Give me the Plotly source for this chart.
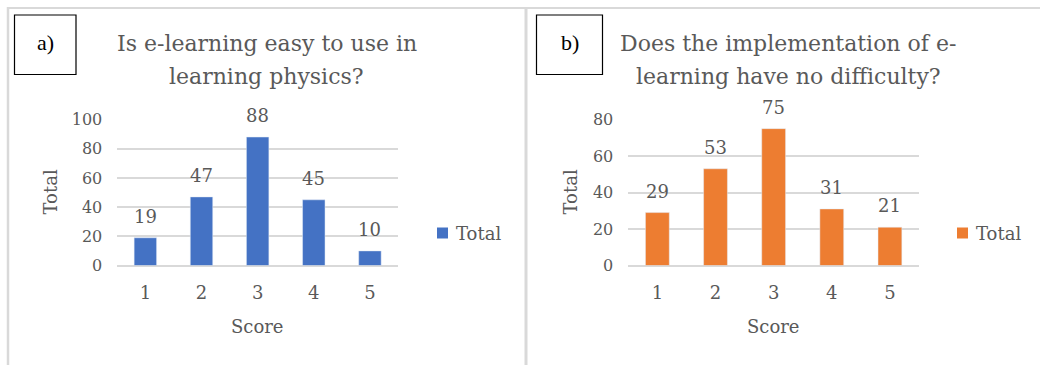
import plotly.graph_objects as go

W, H = 1040, 365

scores = ["1", "2", "3", "4", "5"]
totals_a = [19, 47, 88, 45, 10]
totals_b = [29, 53, 75, 31, 21]
series_name = "Total"
title_a = ["Is e-learning easy to use in", "learning physics?"]
title_b = ["Does the implementation of e-", "learning have no difficulty?"]
panel_labels = ["a)", "b)"]
yticks_a = [0, 20, 40, 60, 80, 100]
yticks_b = [0, 20, 40, 60, 80]
x_title = "Score"
y_title = "Total"

BLUE = "#4472C4"
ORANGE = "#ED7D31"
GRAY_TXT = "#595959"
GRID = "#D9D9D9"
FONT = "DejaVu Serif"


def px(x):
    return x / W


def py(y):
    return 1 - y / H


Y0, Y1 = 265.5, 119.5  # pixel rows of axis min / max

fig = go.Figure()
fig.add_trace(go.Bar(x=scores, y=totals_a, marker_color=BLUE, width=0.4,
                     name=series_name, xaxis="x", yaxis="y", showlegend=False))
fig.add_trace(go.Bar(x=scores, y=totals_b, marker_color=ORANGE, width=0.41,
                     name=series_name, xaxis="x2", yaxis="y2", showlegend=False))

common_x = dict(type="category", categoryorder="array", categoryarray=scores,
                range=[-0.5, len(scores) - 0.5], automargin=False,
                showgrid=False, showline=False, ticks="",
                zeroline=False, tickfont=dict(family=FONT, size=18, color=GRAY_TXT),
                ticklabelstandoff=14, fixedrange=True)
common_y = dict(showgrid=True, gridcolor=GRID, gridwidth=1.5, zeroline=True,
                zerolinecolor=GRID, zerolinewidth=1.5, showline=False, ticks="",
                automargin=False,
                tickfont=dict(family=FONT, size=16, color=GRAY_TXT),
                ticklabelstandoff=14, fixedrange=True)

fig.update_layout(
    width=W, height=H, margin=dict(l=0, r=0, t=0, b=0, pad=0, autoexpand=False),
    paper_bgcolor="white", plot_bgcolor="white", showlegend=False,
    xaxis=dict(domain=[px(117.3), px(398)], anchor="y", **common_x),
    yaxis=dict(domain=[py(Y0), py(Y1)], range=[0, 100], tickvals=yticks_a,
               anchor="x", **common_y),
    xaxis2=dict(domain=[px(628.3), px(919)], anchor="y2", **common_x),
    yaxis2=dict(domain=[py(Y0), py(Y1)], range=[0, 80], tickvals=yticks_b,
                anchor="x2", **common_y),
)

ann = []
# data labels (category axis -> use category index)
for xr, yr, vals in (("x", "y", totals_a), ("x2", "y2", totals_b)):
    for i, v in enumerate(vals):
        ann.append(dict(x=i, y=v, xref=xr, yref=yr, text=str(v), showarrow=False,
                        xanchor="center", yanchor="bottom", yshift=9,
                        font=dict(family=FONT, size=18, color=GRAY_TXT)))

# titles (one annotation per line)
for cx, lines in ((266.7, title_a), (788, title_b)):
    for i, line in enumerate(lines):
        ann.append(dict(x=px(cx), y=py(44 + 32 * i), xref="paper", yref="paper",
                        text=line, showarrow=False, xanchor="center", yanchor="middle",
                        font=dict(family=FONT, size=22, color=GRAY_TXT)))

# axis titles
for cx, ty in ((257.7, 50), (773.6, 570)):
    ann.append(dict(x=px(cx), y=py(326), xref="paper", yref="paper", text=x_title,
                    showarrow=False, xanchor="center", yanchor="middle",
                    font=dict(family=FONT, size=18, color=GRAY_TXT)))
    ann.append(dict(x=px(ty), y=py(192.5), xref="paper", yref="paper", text=y_title,
                    showarrow=False, xanchor="center", yanchor="middle", textangle=-90,
                    font=dict(family=FONT, size=18, color=GRAY_TXT)))

# legends (manual)
shapes = []
for sx, col in ((437, BLUE), (957, ORANGE)):
    shapes.append(dict(type="rect", xref="paper", yref="paper",
                       x0=px(sx), x1=px(sx + 11), y0=py(227.5), y1=py(238.5),
                       fillcolor=col, line=dict(width=0)))
    ann.append(dict(x=px(sx + 17), y=py(233), xref="paper", yref="paper",
                    text=series_name, showarrow=False, xanchor="left", yanchor="middle",
                    font=dict(family=FONT, size=18, color=GRAY_TXT)))

# panel label boxes
for (x0, x1), lab in (((14.5, 76), panel_labels[0]), ((536.5, 602.5), panel_labels[1])):
    shapes.append(dict(type="rect", xref="paper", yref="paper",
                       x0=px(x0), x1=px(x1), y0=py(74.5), y1=py(15),
                       line=dict(color="black", width=1.2), fillcolor="rgba(0,0,0,0)"))
    ann.append(dict(x=px((x0 + x1) / 2), y=py(43), xref="paper", yref="paper",
                    text=lab, showarrow=False, xanchor="center", yanchor="middle",
                    font=dict(family="Liberation Serif", size=22, color="black")))

# panel frames
for x0, y0, x1, y1, w in ((7, 8, 1040, 8, 2), (8, 7, 8, 365, 2.5), (526, 7, 526, 365, 3)):
    shapes.append(dict(type="line", xref="paper", yref="paper",
                       x0=px(x0), y0=py(y0), x1=px(x1), y1=py(y1),
                       line=dict(color=GRID, width=w)))

fig.update_layout(annotations=ann, shapes=shapes)
fig.write_html("out.html")
